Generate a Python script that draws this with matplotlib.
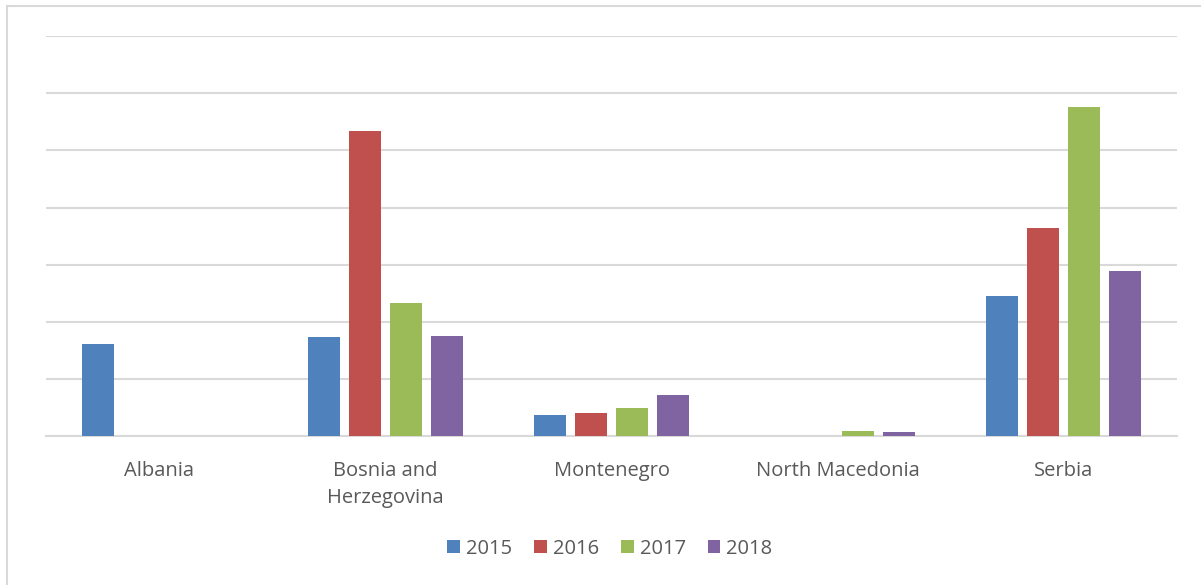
import numpy as np
import matplotlib.pyplot as plt
from matplotlib.lines import Line2D

# --- Data (y axis has no labels, units = gridline steps) ---
countries = ["Albania", "Bosnia and\nHerzegovina", "Montenegro", "North Macedonia", "Serbia"]
years = ["2015", "2016", "2017", "2018"]
v2015 = [1.61, 1.74, 0.37, 0.0, 2.45]
v2016 = [0.0, 5.34, 0.41, 0.0, 3.64]
v2017 = [0.0, 2.33, 0.49, 0.09, 5.75]
v2018 = [0.0, 1.76, 0.72, 0.07, 2.89]
colors = ["#4f81bd", "#c0504d", "#9bbb59", "#8064a2"]

plt.rcParams['font.family'] = ['Open Sans', 'DejaVu Sans']

W, H = 1201, 585
fig = plt.figure(figsize=(W / 100, H / 100), dpi=100)
# frame of the office chart: only top and left edges are visible (rest cropped)
fy = (H - 5.5) / H
fx = 6.5 / W
fig.add_artist(Line2D([fx, 1.0], [fy, fy], transform=fig.transFigure,
                      color="#d9d9d9", linewidth=1.5))
fig.add_artist(Line2D([fx, fx], [0.0, fy], transform=fig.transFigure,
                      color="#d9d9d9", linewidth=1.5))

ax = fig.add_axes([46 / W, (H - 436.3) / H, 1131 / W, 400.3 / H])

series = [v2015, v2016, v2017, v2018]
x = np.arange(len(countries))
pitch = 41 / 226
width = 32 / 226
for i, (vals, col) in enumerate(zip(series, colors)):
    ax.bar(x + (i - 1.5) * pitch, vals, width=width, color=col,
           label=years[i], zorder=3)

ax.set_xlim(-0.5, len(countries) - 0.5)
ax.set_ylim(0, 7)
ax.set_yticks(np.arange(0, 8))
ax.yaxis.grid(True, color="#d9d9d9", linewidth=1.5, zorder=0)
ax.tick_params(axis="y", left=False, labelleft=False)
ax.tick_params(axis="x", bottom=False, labelsize=14.5, labelcolor="#595959", pad=14)
ax.set_xticks(x)
ax.set_xticklabels(countries, linespacing=1.5)
for s in ["top", "right", "left"]:
    ax.spines[s].set_visible(False)
ax.spines["bottom"].set_color("#d9d9d9")
ax.spines["bottom"].set_linewidth(1.5)

leg = fig.legend(loc="center", bbox_to_anchor=(610 / W, (H - 549) / H),
                 ncol=4, frameon=False, fontsize=14.5, handlelength=0.62,
                 handleheight=0.62, handletextpad=0.3, columnspacing=1.1)
for t in leg.get_texts():
    t.set_color("#595959")

fig.savefig("out.png", dpi=100)
plt.close(fig)
